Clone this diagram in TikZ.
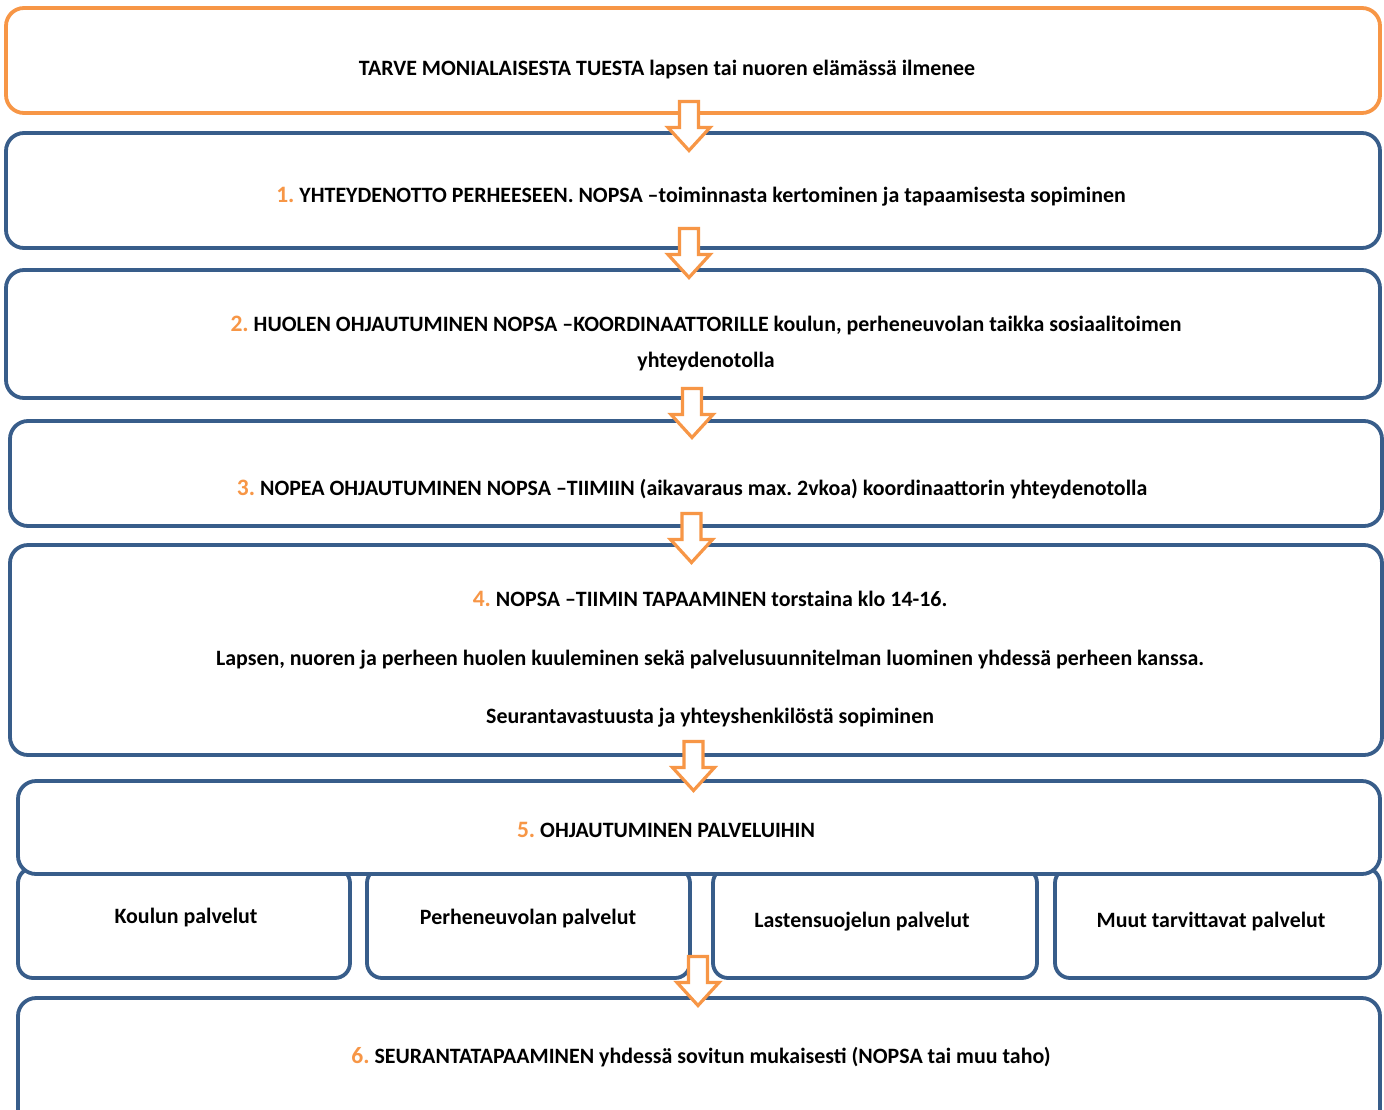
\documentclass[tikz,border=0pt]{standalone}
\usepackage{fontspec}
\setmainfont{Carlito}
\frenchspacing
\definecolor{frameblue}{HTML}{385D8A}
\definecolor{accentorange}{HTML}{F79646}
\tikzset{
  stagebox/.style={draw=frameblue, line width=3.8pt, fill=white, rounded corners=18pt,
    rectangle, inner sep=0pt, outer sep=0pt},
  topbox/.style={stagebox, draw=accentorange},
  subbox/.style={stagebox, rounded corners=15pt},
  label/.style={anchor=base, inner sep=0pt, font=\fontsize{21.9}{26}\selectfont\bfseries},
  blockarrow/.style={draw=accentorange, fill=white, line width=3.2pt, line join=miter},
}
\newcommand{\stepno}[1]{{\fontsize{23.5}{26}\selectfont\textcolor{accentorange}{#1}}}
% downward block arrow hanging from a coordinate (top centre)
\newcommand{\blockdown}[1]{%
  \draw[blockarrow] (#1) ++(-9.5,0) -- ++(19,0) -- ++(0,26) -- ++(11.5,0)
    -- ++(-21,23) -- ++(-21,-23) -- ++(11.5,0) -- cycle;}
\begin{document}
\begin{tikzpicture}[x=1pt,y=-1pt]
\useasboundingbox (0,0) rectangle (1384,1109);
\clip (0,0) rectangle (1384,1109);

% stage frames
\node[topbox, minimum width=1374pt, minimum height=105pt] (b0) at (693,60.5) {};
\node[stagebox, minimum width=1374pt, minimum height=115pt] (b1) at (693,190.5) {};
\node[stagebox, minimum width=1374pt, minimum height=128pt] (b2) at (693,334) {};
\node[stagebox, minimum width=1372pt, minimum height=105pt] (b3) at (696,473.5) {};
\node[stagebox, minimum width=1372pt, minimum height=210pt] (b4) at (696,650) {};

% service boxes under stage 5
\node[subbox, minimum width=332pt, minimum height=110pt] (s1) at (184,923) {};
\node[subbox, minimum width=323pt, minimum height=110pt] (s2) at (528.5,923) {};
\node[subbox, minimum width=324pt, minimum height=110pt] (s3) at (875,923) {};
\node[subbox, minimum width=325pt, minimum height=110pt] (s4) at (1217.5,923) {};

\node[stagebox, minimum width=1362pt, minimum height=93pt] (b5) at (699,827.5) {};
\node[stagebox, minimum width=1362pt, minimum height=130pt] (b6) at (699,1063) {};

% arrows between stages
\coordinate (a1) at (689,101.5);
\coordinate (a2) at (689,228.5);
\coordinate (a3) at (692,388.5);
\coordinate (a4) at (691.5,513.5);
\coordinate (a5) at (693.5,741.5);
\coordinate (a6) at (698,956.5);
\blockdown{a1}
\blockdown{a2}
\blockdown{a3}
\blockdown{a4}
\blockdown{a5}
\blockdown{a6}

% texts
\node[label] (t0) at (667,75) {TARVE MONIALAISESTA TUESTA lapsen tai nuoren elämässä ilmenee};
\node[label] (t1) at (701,202) {\stepno{1.} YHTEYDENOTTO PERHEESEEN. NOPSA –toiminnasta kertominen ja tapaamisesta sopiminen};
\node[label] (t2a) at (706,331) {\stepno{2.} HUOLEN OHJAUTUMINEN NOPSA –KOORDINAATTORILLE koulun, perheneuvolan taikka sosiaalitoimen};
\node[label] (t2b) at (706,367) {yhteydenotolla};
\node[label] (t3) at (692,495) {\stepno{3.} NOPEA OHJAUTUMINEN NOPSA –TIIMIIN (aikavaraus max. 2vkoa) koordinaattorin yhteydenotolla};
\node[label] (t4a) at (710,606) {\stepno{4.} NOPSA –TIIMIN TAPAAMINEN torstaina klo 14-16.};
\node[label] (t4b) at (710,665) {Lapsen, nuoren ja perheen huolen kuuleminen sekä palvelusuunnitelman luominen yhdessä perheen kanssa.};
\node[label] (t4c) at (710,723) {Seurantavastuusta ja yhteyshenkilöstä sopiminen};
\node[label] (t5) at (666,837) {\stepno{5.} OHJAUTUMINEN PALVELUIHIN};
\node[label] (u1) at (186,923) {Koulun palvelut};
\node[label] (u2) at (528,924) {Perheneuvolan palvelut};
\node[label] (u3) at (862,927) {Lastensuojelun palvelut};
\node[label] (u4) at (1211,927) {Muut tarvittavat palvelut};
\node[label] (t6) at (701,1063) {\stepno{6.} SEURANTATAPAAMINEN yhdessä sovitun mukaisesti (NOPSA tai muu taho)};
\end{tikzpicture}
\end{document}
